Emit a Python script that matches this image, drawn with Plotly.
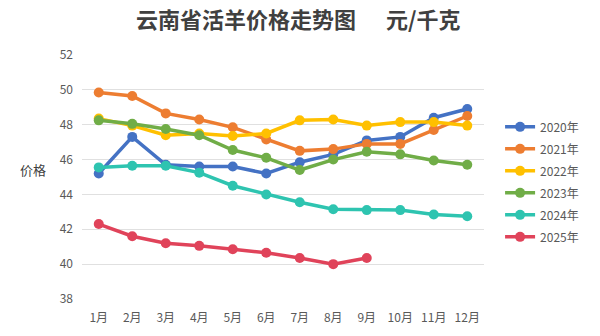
import plotly.graph_objects as go

months = ["1月", "2月", "3月", "4月", "5月", "6月", "7月", "8月", "9月", "10月", "11月", "12月"]
y2020 = [45.2, 47.3, 45.7, 45.6, 45.6, 45.2, 45.85, 46.3, 47.1, 47.3, 48.4, 48.9]
y2021 = [49.85, 49.65, 48.65, 48.3, 47.85, 47.15, 46.5, 46.6, 46.9, 46.9, 47.7, 48.5]
y2022 = [48.35, 47.95, 47.4, 47.5, 47.35, 47.5, 48.25, 48.3, 47.95, 48.15, 48.15, 47.95]
y2023 = [48.25, 48.05, 47.75, 47.4, 46.55, 46.1, 45.4, 46.0, 46.45, 46.3, 45.95, 45.7]
y2024 = [45.55, 45.65, 45.65, 45.25, 44.5, 44.0, 43.55, 43.15, 43.1, 43.1, 42.85, 42.75]
y2025 = [42.3, 41.6, 41.2, 41.05, 40.85, 40.65, 40.35, 40.0, 40.35]

series = [
    ("2020年", y2020, "#4472C4"),
    ("2021年", y2021, "#ED7D31"),
    ("2022年", y2022, "#FFC000"),
    ("2023年", y2023, "#70AD47"),
    ("2024年", y2024, "#2EC4B0"),
    ("2025年", y2025, "#E0435A"),
]

fig = go.Figure()
for name, vals, color in series:
    fig.add_trace(go.Scatter(
        x=months[:len(vals)], y=vals, name=name, mode="lines+markers",
        legendgroup=name,
        line=dict(color=color, width=3.5),
        marker=dict(color=color, size=10),
    ))

font = "Noto Sans CJK SC, Noto Sans, sans-serif"
fig.update_layout(
    width=600, height=336,
    margin=dict(l=82, r=116, t=55, b=37),
    paper_bgcolor="white", plot_bgcolor="white",
    font=dict(family=font, color="#595959", size=11),
    showlegend=True,
    legend=dict(x=1.04, y=0.765, xanchor="left", yanchor="top",
                font=dict(size=12, color="#595959"), tracegroupgap=3,
                bgcolor="rgba(0,0,0,0)"),
    xaxis=dict(categoryorder="array", categoryarray=months, range=[-0.5, 11.5],
               showgrid=False, showline=False, ticks="", zeroline=False,
               ticklabelstandoff=10,
               tickfont=dict(size=12, color="#595959")),
    yaxis=dict(range=[38, 52], dtick=2, showgrid=True, gridcolor="#E0E0E0",
               gridwidth=1, zeroline=False, showline=False, ticks="",
               ticklabelstandoff=8,
               tickfont=dict(size=12, color="#595959")),
    annotations=[
        dict(text="<b>云南省活羊价格走势图      元/千克</b>", xref="paper", yref="paper",
             x=0.5, y=1, xanchor="center", yanchor="bottom", showarrow=False,
             xshift=15, yshift=19, font=dict(size=22, color="#404040", family=font)),
        dict(text="价格", xref="paper", yref="paper", x=0, y=0.53,
             xanchor="center", yanchor="middle", showarrow=False,
             xshift=-49, font=dict(size=13, color="#404040", family=font)),
    ],
)

fig.write_html("out.html")
